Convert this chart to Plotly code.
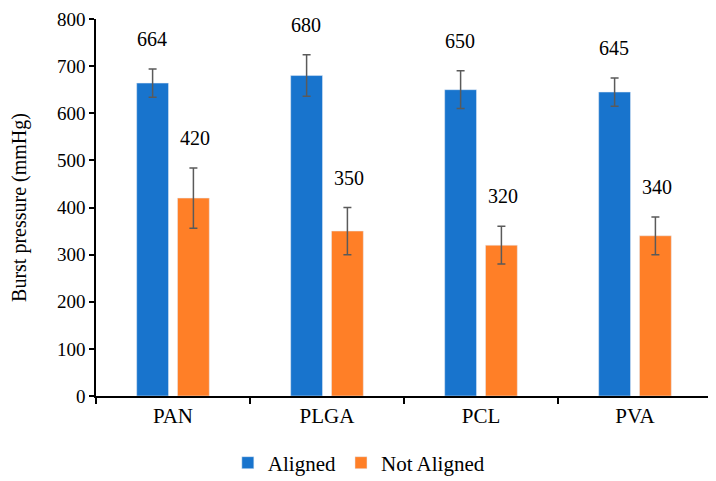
import plotly.graph_objects as go

categories = ["PAN", "PLGA", "PCL", "PVA"]
aligned = [664, 680, 650, 645]
aligned_err = [30, 44, 40, 30]
not_aligned = [420, 350, 320, 340]
not_aligned_err = [64, 50, 40, 40]
y_ticks = [0, 100, 200, 300, 400, 500, 600, 700, 800]

FONT = "Liberation Serif"
BLUE = "#1874CD"
ORANGE = "#FF7F27"
ERR = "#5a5a5a"

fig = go.Figure()
fig.add_trace(go.Bar(
    name="Aligned", x=categories, y=aligned, marker_color=BLUE,
    error_y=dict(type="data", array=aligned_err, color=ERR, thickness=1.5, width=4),
))
fig.add_trace(go.Bar(
    name="Not Aligned", x=categories, y=not_aligned, marker_color=ORANGE,
    error_y=dict(type="data", array=not_aligned_err, color=ERR, thickness=1.5, width=4),
))

for vals, errs, shift in [(aligned, aligned_err, -21.5), (not_aligned, not_aligned_err, 21.5)]:
    for c, v, e in zip(categories, vals, errs):
        fig.add_annotation(x=c, y=v + e, text=str(v), showarrow=False,
                           xshift=shift, yshift=30, yanchor="middle",
                           font=dict(family=FONT, size=20, color="#000"))

fig.update_layout(
    width=716, height=481,
    margin=dict(l=88, r=12, t=11, b=93, autoexpand=False),
    paper_bgcolor="white", plot_bgcolor="white",
    barmode="group", bargap=0.47, bargroupgap=0.22,
    font=dict(family=FONT, size=18, color="#000"),
    showlegend=True,
    legend=dict(orientation="h", xref="container", yref="container",
                x=0.49, xanchor="center", y=0.054, yanchor="middle",
                font=dict(family=FONT, size=21), itemwidth=30,
                traceorder="normal"),
)
fig.update_xaxes(
    showline=True, linecolor="#000", linewidth=1.5,
    ticks="outside", tickson="boundaries", ticklen=6, tickcolor="#000", tickwidth=1.5,
    tickfont=dict(family=FONT, size=21),
    showgrid=False, automargin=False,
)
fig.update_yaxes(
    range=[0, 800], tickvals=y_ticks,
    showline=True, linecolor="#000", linewidth=1.5,
    ticks="outside", ticklen=5, tickcolor="#000", tickwidth=1.5,
    tickfont=dict(family=FONT, size=19),
    showgrid=False, zeroline=False, automargin=False,
    title=dict(text="Burst pressure (mmHg)", font=dict(family=FONT, size=20), standoff=28),
)

fig.write_html("out.html")
